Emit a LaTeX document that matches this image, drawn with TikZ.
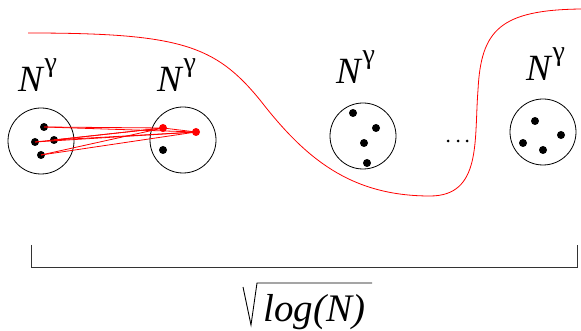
\documentclass[tikz,border=0pt]{standalone}
\usepackage{fontspec}
\setmainfont{Liberation Serif}
\begin{document}
\begin{tikzpicture}[x=1pt,y=-1pt,
  grp/.style={draw,line width=0.8pt,circle,minimum size=66pt,inner sep=0pt},
  dot/.style={circle,fill=black,inner sep=0pt,minimum size=8pt},
  rdot/.style={circle,fill=red,inner sep=0pt,minimum size=8pt},
  sdot/.style={circle,fill=black,inner sep=0pt,minimum size=3pt},
  lab/.style={anchor=base west,inner sep=0pt,font=\fontsize{37}{40}\selectfont},
  link/.style={red,line width=0.8pt}]
\useasboundingbox (0,0) rectangle (581,331);
% labels
\newcommand{\Ng}{\textit{N}\raisebox{20pt}{\fontsize{28}{28}\selectfont γ}}
\node[lab] (l1) at (18,92) {\Ng};
\node[lab] (l2) at (157,92) {\Ng};
\node[lab] (l3) at (336,84) {\Ng};
\node[lab] (l4) at (526,81) {\Ng};
% circles
\node[grp] (c1) at (41,141) {};
\node[grp] (c2) at (183,140) {};
\node[grp] (c3) at (363,136) {};
\node[grp] (c4) at (543,132) {};
% dots in circle 1
\node[dot] (a1) at (44,127) {};
\node[dot] (a2) at (35,142) {};
\node[dot] (a3) at (54,140) {};
\node[dot] (a4) at (41,155) {};
% circle 2
\node[rdot] (r1) at (163,128) {};
\node[rdot] (r2) at (196,132) {};
\node[dot] (b1) at (163,150) {};
% circle 3
\node[dot] at (353,113) {};
\node[dot] at (376,128) {};
\node[dot] at (364,143) {};
\node[dot] at (367,163) {};
% circle 4
\node[dot] at (535,121) {};
\node[dot] at (561,135) {};
\node[dot] at (523,143) {};
\node[dot] at (543,150) {};
% ellipsis
\node[sdot] at (448,141) {};
\node[sdot] at (458,141) {};
\node[sdot] at (467,141) {};
% links
\foreach \a in {a1,a2,a3,a4}{
  \draw[link] (\a.center) -- (r1.center);
  \draw[link] (\a.center) -- (r2.center);
}
\draw[link] (r1.center) -- (r2.center);
% red curve
\draw[red,line width=0.8pt] (28,33) .. controls (180,33) and (215,45) .. (260,100)
  .. controls (305,158) and (350,196) .. (430,196)
  .. controls (482,196) and (474,140) .. (478,90)
  .. controls (481,30) and (500,10) .. (581,9);
% bracket
\coordinate (bl) at (31,245);
\coordinate (br) at (577,245);
\draw[line width=0.8pt,black!80] (bl) -- ++(0,22) -| (br);
% sqrt label
\node[anchor=base west,inner sep=0pt,font=\fontsize{39}{44}\selectfont\itshape] (s) at (263,321) {log(N)};
\draw[line width=0.9pt] (243,287) -- (251,325) -- (257,283) -- (372,283);
\end{tikzpicture}
\end{document}
